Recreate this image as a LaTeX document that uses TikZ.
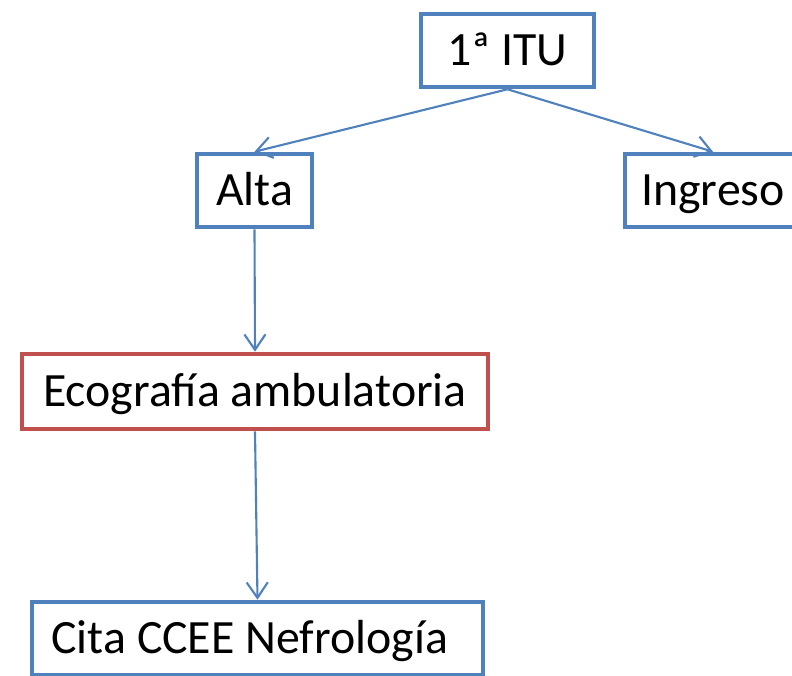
\documentclass[tikz,border=0pt]{standalone}
\usepackage{fontspec}
\setmainfont{Carlito}
\usepackage{xcolor}
\usetikzlibrary{arrows.meta}
\definecolor{boxblue}{RGB}{79,129,189}
\definecolor{boxred}{RGB}{192,80,77}

\begin{document}
\begin{tikzpicture}[x=0.025cm,y=-0.025cm,
    box/.style={draw=boxblue,line width=3.1pt,minimum height=1.83cm,inner sep=0pt,
      text height=22pt,text depth=0pt,font=\fontsize{34}{41}\selectfont},
    link/.style={draw=boxblue,line width=1.5pt,-{Straight Barb[length=11pt,width=15pt]}}]
    % Frame
    \useasboundingbox (0,0) rectangle (792,676);

    % Boxes
    \node[box,minimum width=4.33cm] (itu) at (507.5,50.5) {1ª ITU};
    \node[box,minimum width=2.88cm] (alta) at (254.5,190.5) {Alta};
    \node[box,minimum width=4.4cm] (ingreso) at (713,190.5) {Ingreso};
    \node[box,draw=boxred,minimum width=11.65cm,minimum height=1.88cm] (eco) at (255,391.5) {Ecografía ambulatoria};
    \node[box,minimum width=11.28cm] (cita) at (257.5,638.5) {Cita CCEE Nefrología\kern11pt};

    % Arrows
    \draw[link] (itu.south) -- (alta.north);
    \draw[link] (itu.south) -- (ingreso.north);
    \draw[link] (alta.south) -- (eco.north);
    \draw[link] (eco.south) -- (cita.north);
\end{tikzpicture}
\end{document}
